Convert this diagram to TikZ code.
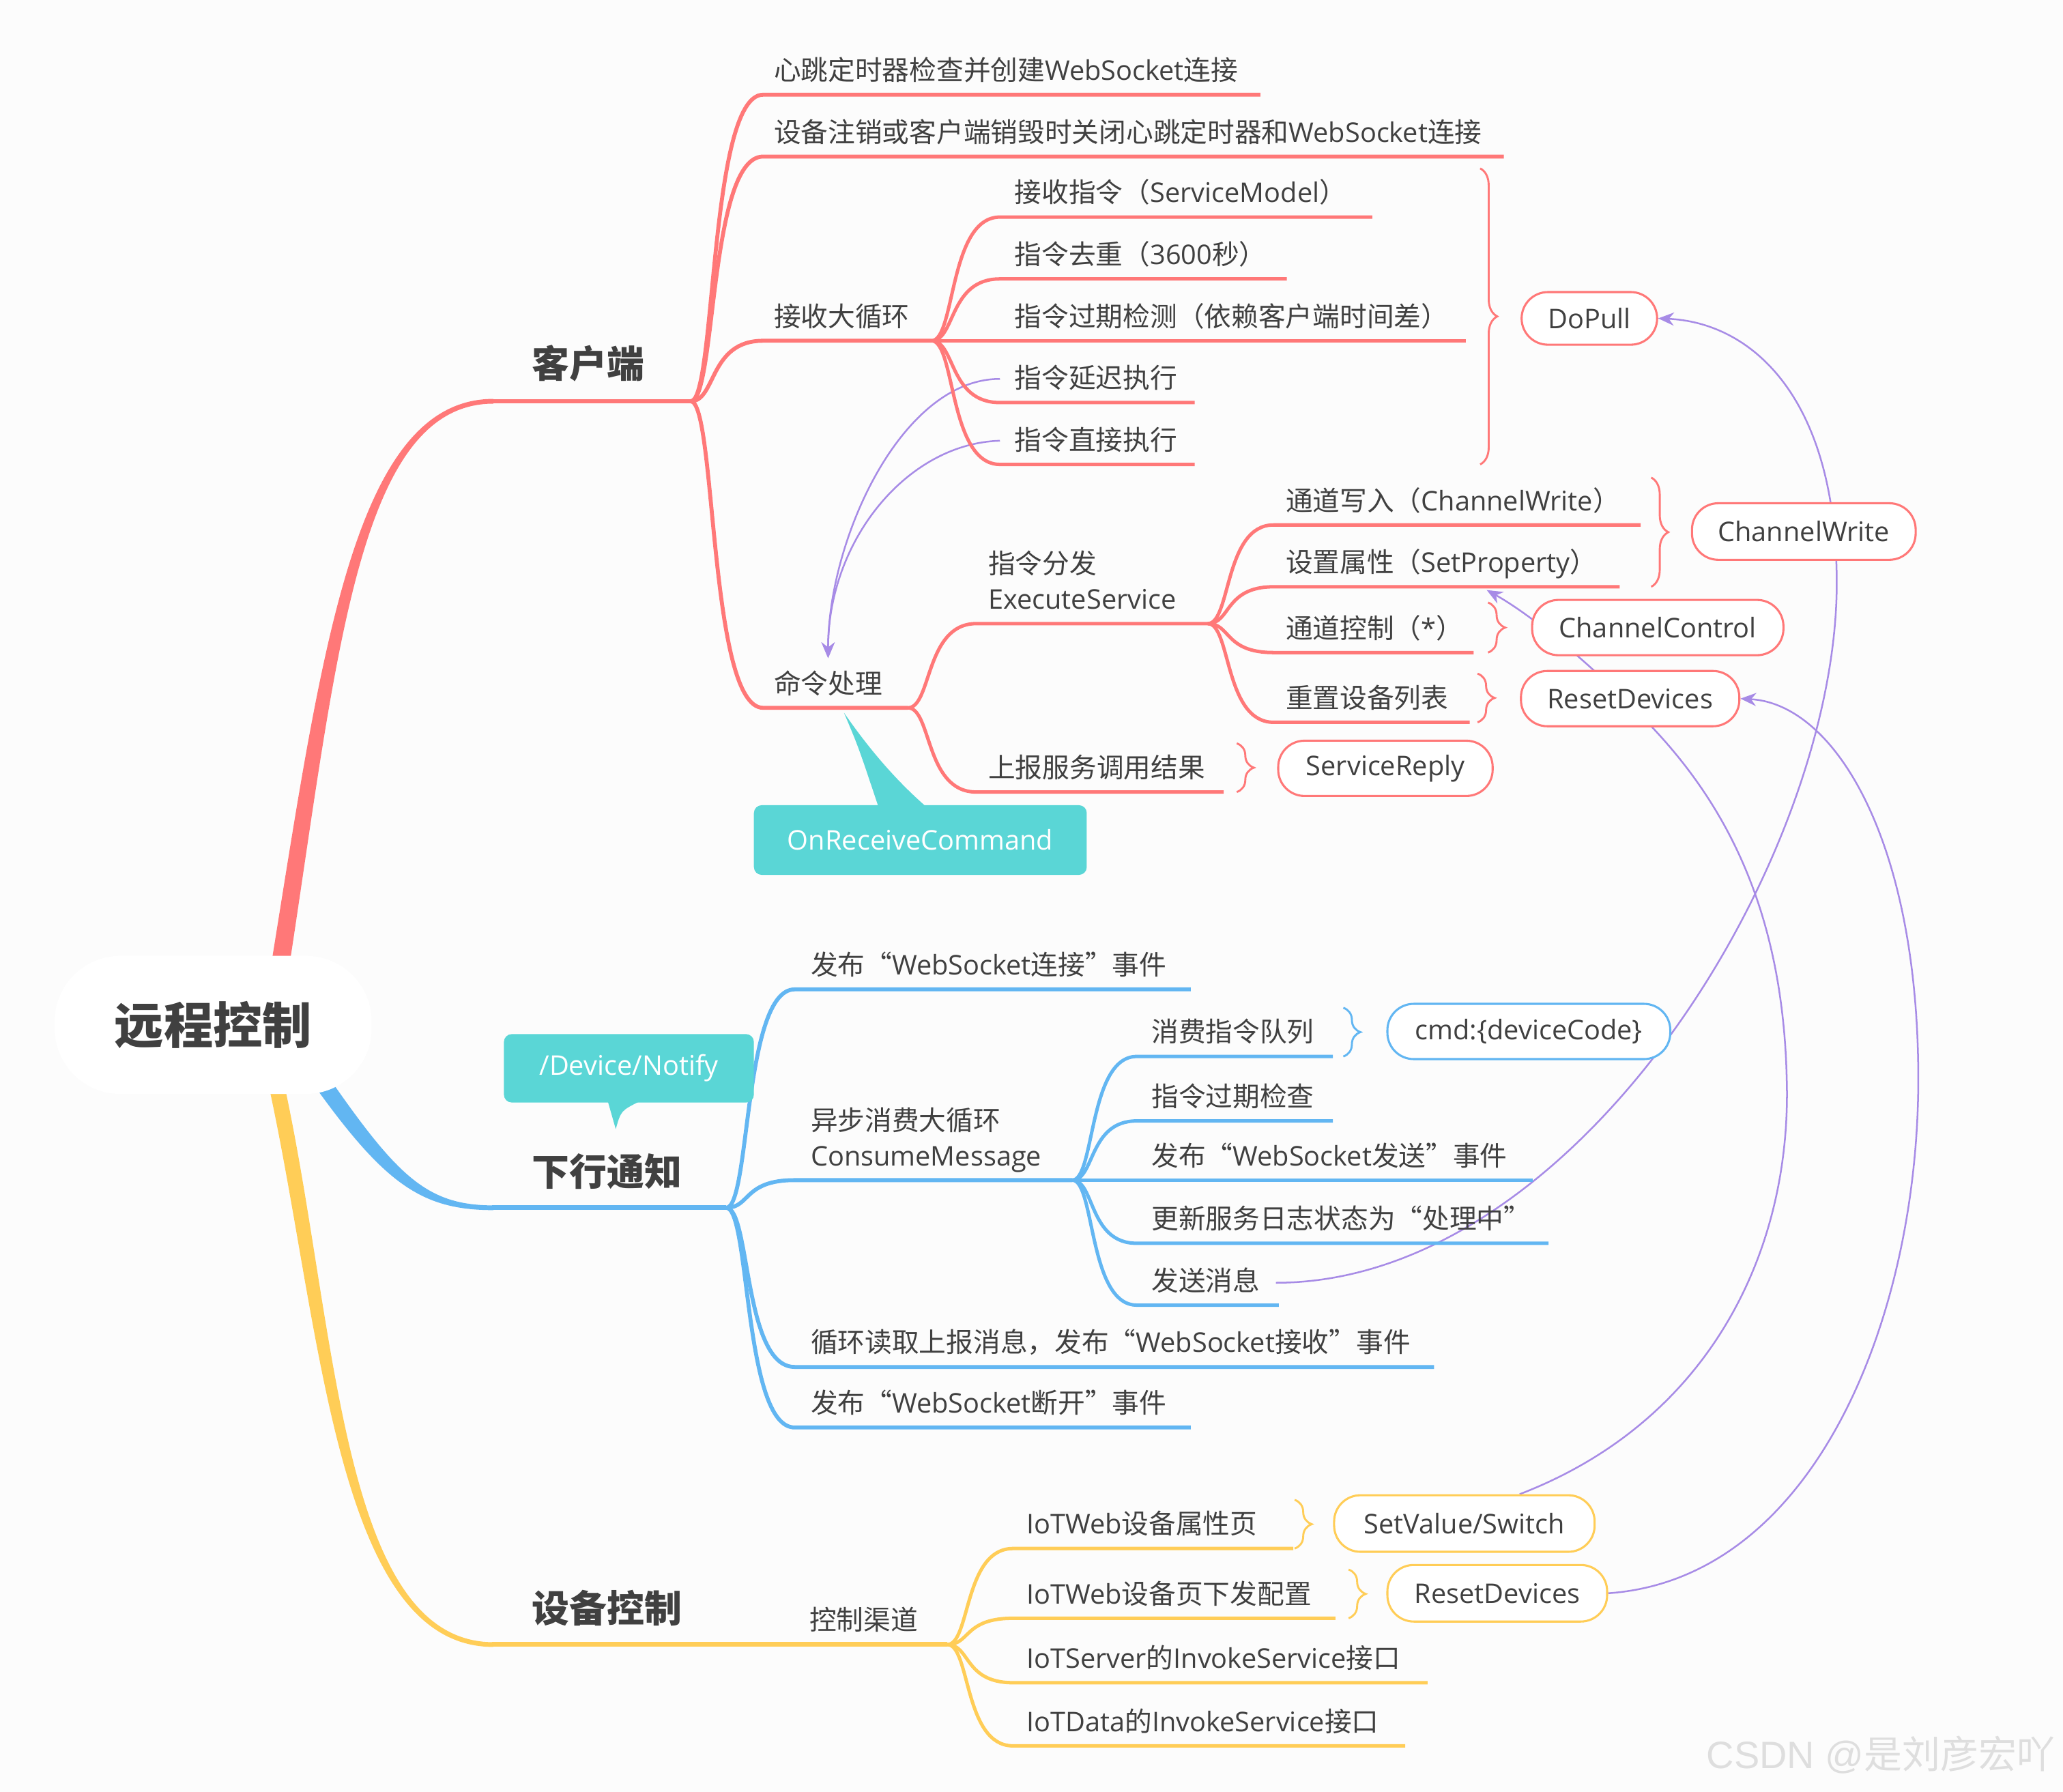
\documentclass[tikz,border=0pt]{standalone}
\usepackage{fontspec}
\setmainfont{Noto Sans CJK SC}
\newfontfamily\latf{Open Sans}
\newfontfamily\wmf{Liberation Sans}
\usetikzlibrary{calc,decorations.pathreplacing,arrows.meta}
\pgfdeclarelayer{back}
\pgfdeclarelayer{rel}
\pgfsetlayers{back,rel,main}
\definecolor{cred}{HTML}{FF7878}
\definecolor{cblue}{HTML}{62B6F2}
\definecolor{cyel}{HTML}{FFCD57}
\definecolor{cteal}{HTML}{5AD6D6}
\definecolor{cpur}{HTML}{A78BE6}
\definecolor{ctxt}{HTML}{404040}
\definecolor{cbg}{HTML}{FCFCFC}
\definecolor{cwm}{HTML}{DEDEDE}
\newcommand\lat[1]{{\latf #1}}
% mind-map branch: style, name, jx, jy, cx, cy, ex
\newcommand\mmb[7]{%
  \coordinate (#2a) at (#5,#6);
  \coordinate (#2b) at (#7,#6);
  \draw[#1] (#3,#4) .. controls ({#3+0.35*(#5-#3)},#4) and ({#3+0.25*(#5-#3)},#6) .. (#2a) -- (#2b);
}
\begin{document}
\begin{tikzpicture}[x=1pt,y=-1pt,
  txt/.style={inner sep=0pt, anchor=base west, text=ctxt, font=\fontsize{20.6}{27}\selectfont},
  mainlbl/.style={inner sep=0pt, anchor=base west, text=ctxt, font=\bfseries\fontsize{28.5}{32}\selectfont},
  lv2/.style={line width=3pt},
  lv3/.style={line width=2.6pt},
  pill/.style={line width=1.6pt, fill=white, rounded corners=20pt, minimum height=42pt, inner sep=0pt, text=ctxt, font=\latf\fontsize{20.6}{24}\selectfont},
  brc/.style={decorate, decoration={brace, amplitude=13pt, aspect=0.5}, line width=1.5pt},
  callout/.style={fill=cteal, rounded corners=6pt, inner sep=0pt, text=white, font=\latf\fontsize{20.6}{24}\selectfont},
  rel/.style={draw=cpur, line width=1.3pt},
  relarrow/.style={rel, -{Stealth[length=12pt, width=10pt]}}
]
\useasboundingbox (0,0) rectangle (1568,1362);
\begin{pgfonlayer}{back}
  \fill[cbg] (0,0) rectangle (1568,1362);
\end{pgfonlayer}

% ---------- junction coordinates ----------
\coordinate (jk) at (525,305);
\coordinate (jd) at (552,918);
\coordinate (jy) at (552,1250);

% ---------- main branches (tapered) ----------
\fill[cred] (205,740) .. controls (244,500) and (268,303.2) .. (375,303.2) -- (375,306.8) .. controls (272,306.8) and (256,500) .. (219,740) -- cycle;
\draw[cred, line width=3.6pt] (374,305) -- (jk);
\fill[cblue] (241,806) .. controls (300,892) and (322,916.2) .. (375,916.2) -- (375,919.8) .. controls (318,919.8) and (290,898) .. (231,814) -- cycle;
\draw[cblue, line width=3.6pt] (374,918) -- (jd);
\fill[cyel] (214,815) .. controls (256,1000) and (257,1248.2) .. (375,1248.2) -- (375,1251.8) .. controls (253,1251.8) and (244,1000) .. (202,815) -- cycle;
\coordinate (jc) at (720,1250);
\draw[cyel, line width=3.6pt] (374,1250) -- (jy) -- (jc);

% ---------- root ----------
\node[fill=white, rounded corners=50pt, minimum width=241pt, minimum height=105pt, inner sep=0pt, text=ctxt, font=\bfseries\fontsize{37.5}{40}\selectfont] (root) at (162,779) {远程控制};

% main labels
\node[mainlbl] (lk) at (404,287) {客户端};
\node[mainlbl] (ld) at (404,901) {下行通知};
\node[mainlbl] (ly) at (404,1233) {设备控制};

% ---------- 客户端 ----------
\mmb{lv2,cred}{k1}{525}{305}{580}{72}{958}
\mmb{lv2,cred}{k2}{525}{305}{580}{119}{1143}
\mmb{lv2,cred}{k3}{525}{305}{580}{259}{708}
\mmb{lv2,cred}{k4}{525}{305}{580}{538}{690}
\node[txt] (t11) at (588,61) {心跳定时器检查并创建\lat{WebSocket}连接};
\node[txt] (t12) at (588,108) {设备注销或客户端销毁时关闭心跳定时器和\lat{WebSocket}连接};
\node[txt] (t13) at (588,248) {接收大循环};
\node[txt] (t14) at (588,527) {命令处理};

% 接收大循环
\mmb{lv3,cred}{r1}{708}{259}{760}{165}{1043}
\mmb{lv3,cred}{r2}{708}{259}{760}{212}{978}
\mmb{lv3,cred}{r3}{708}{259}{760}{259}{1114}
\mmb{lv3,cred}{r4}{708}{259}{760}{306}{908}
\mmb{lv3,cred}{r5}{708}{259}{760}{353}{908}
\node[txt] (tr1) at (771,154) {接收指令（\lat{ServiceModel}）};
\node[txt] (tr2) at (771,201) {指令去重（\lat{3600}秒）};
\node[txt] (tr3) at (771,248) {指令过期检测（依赖客户端时间差）};
\node[txt] (tr4) at (771,295) {指令延迟执行};
\node[txt] (tr5) at (771,342) {指令直接执行};
\draw[brc, draw=cred] (1125,128) -- (1125,353);
\node[pill, draw=cred, minimum width=103pt, minimum height=40pt] (dopull) at (1208,242) {DoPull};

% 命令处理
\mmb{lv3,cred}{c1}{690}{538}{742}{474}{918}
\mmb{lv3,cred}{c2}{690}{538}{742}{602}{930}
\node[txt, align=left] (tc1) at (751,463) {指令分发\\\lat{ExecuteService}};
\node[txt] (tc2) at (751,591) {上报服务调用结果};
\draw[brc, draw=cred] (940,565) -- (940,602);
\node[pill, draw=cred, minimum width=163pt] (sreply) at (1053,584) {ServiceReply};

% ExecuteService
\mmb{lv3,cred}{e1}{918}{474}{968}{399}{1247}
\mmb{lv3,cred}{e2}{918}{474}{968}{446}{1231}
\mmb{lv3,cred}{e3}{918}{474}{968}{496}{1120}
\mmb{lv3,cred}{e4}{918}{474}{968}{549}{1117}
\node[txt] (te1) at (977,388) {通道写入（\lat{ChannelWrite}）};
\node[txt] (te2) at (977,435) {设置属性（\lat{SetProperty}）};
\node[txt] (te3) at (977,485) {通道控制（\lat{*}）};
\node[txt] (te4) at (977,538) {重置设备列表};
\draw[brc, draw=cred] (1255,363) -- (1255,446);
\draw[brc, draw=cred] (1131,458) -- (1131,496);
\draw[brc, draw=cred] (1123,512) -- (1123,549);
\node[pill, draw=cred, minimum width=170pt, minimum height=43pt] (cwrite) at (1371,404) {ChannelWrite};
\node[pill, draw=cred, minimum width=191pt] (cctrl) at (1260,477) {ChannelControl};
\node[pill, draw=cred, minimum width=166pt] (rdr) at (1239,531) {ResetDevices};
\coordinate (spend) at ($(e2b)+(-101,2.5)$);

% OnReceiveCommand callout
\node[callout, minimum width=253pt, minimum height=53pt] (orc) at (699.5,638.5) {OnReceiveCommand};
\fill[cteal] ($(orc.north)+(-58,-70)$) .. controls ($(orc.north)+(-47,-44)$) .. ($(orc.north)+(-32,1)$) -- ($(orc.north)+(4,1)$) .. controls ($(orc.north)+(-20,-20)$) and ($(orc.north)+(-40,-44)$) .. ($(orc.north)+(-58,-70)$) -- cycle;

% ---------- 下行通知 ----------
\mmb{lv2,cblue}{d1}{552}{918}{604}{752}{905}
\mmb{lv2,cblue}{d2}{552}{918}{604}{897}{815}
\mmb{lv2,cblue}{d3}{552}{918}{604}{1039}{1090}
\mmb{lv2,cblue}{d4}{552}{918}{604}{1085}{905}
\node[txt] (td1) at (616,741) {发布“\lat{WebSocket}连接”事件};
\node[txt, align=left] (td2) at (616,886) {异步消费大循环\\\lat{ConsumeMessage}};
\node[txt] (td3) at (616,1028) {循环读取上报消息，发布“\lat{WebSocket}接收”事件};
\node[txt] (td4) at (616,1074) {发布“\lat{WebSocket}断开”事件};

\mmb{lv3,cblue}{m1}{815}{897}{864}{803}{1013}
\mmb{lv3,cblue}{m2}{815}{897}{864}{852}{1013}
\mmb{lv3,cblue}{m3}{815}{897}{864}{897}{1165}
\mmb{lv3,cblue}{m4}{815}{897}{864}{945}{1177}
\mmb{lv3,cblue}{m5}{815}{897}{864}{992}{972}
\node[txt] (tm1) at (875,792) {消费指令队列};
\node[txt] (tm2) at (875,841) {指令过期检查};
\node[txt] (tm3) at (875,886) {发布“\lat{WebSocket}发送”事件};
\node[txt] (tm4) at (875,934) {更新服务日志状态为“处理中”};
\node[txt] (tm5) at (875,981) {发送消息};
\draw[brc, draw=cblue] (1021,766) -- (1021,803);
\node[pill, draw=cblue, minimum width=215pt] (cmd) at (1162,784) {cmd:\{deviceCode\}};

% /Device/Notify callout
\node[callout, minimum width=190pt, minimum height=52pt] (dn) at (478,812) {/Device/Notify};
\fill[cteal] ($(dn.south)+(-16,-1)$) -- ($(dn.south)+(-10,20)$) .. controls ($(dn.south)+(-6,6)$) .. ($(dn.south)+(8,-1)$) -- cycle;

% ---------- 设备控制 ----------
\node[txt] (tyc) at (615,1239) {控制渠道};
\mmb{lv3,cyel}{y1}{720}{1250}{770}{1177}{983}
\mmb{lv3,cyel}{y2}{720}{1250}{770}{1230}{1015}
\mmb{lv3,cyel}{y3}{720}{1250}{770}{1279}{1085}
\mmb{lv3,cyel}{y4}{720}{1250}{770}{1327}{1068}
\node[txt] (ty1) at (780,1166) {\lat{IoTWeb}设备属性页};
\node[txt] (ty2) at (780,1219) {\lat{IoTWeb}设备页下发配置};
\node[txt] (ty3) at (780,1268) {\lat{IoTServer}的\lat{InvokeService}接口};
\node[txt] (ty4) at (780,1316) {\lat{IoTData}的\lat{InvokeService}接口};
\draw[brc, draw=cyel] (984,1140) -- (984,1177);
\draw[brc, draw=cyel] (1025,1193) -- (1025,1230);
\node[pill, draw=cyel, minimum width=198pt, minimum height=43pt] (sv) at (1113,1158) {SetValue/Switch};
\node[pill, draw=cyel, minimum width=167pt, minimum height=43pt] (rdy) at (1138,1211) {ResetDevices};

% ---------- relationships ----------
\begin{pgfonlayer}{rel}
  \draw[relarrow] ($(tr4.base west)+(-11,-7)$) .. controls +(-75,0) and +(0,-90) .. ($(t14.north)+(0,-9)$);
  \draw[relarrow] ($(tr5.base west)+(-11,-7)$) .. controls +(-70,2) and +(0,-90) .. ($(t14.north)+(0,-9)$);
  \draw[relarrow] ($(tm5.base east)+(12,-6)$) .. controls (1200,975) and (1398,650) .. (1396,440) .. controls (1395,300) and (1330,245) .. (dopull.east);
  \draw[relarrow] ($(sv.north)+(42,0)$) .. controls (1300,1080) and (1362,950) .. (1358,820) .. controls (1355,690) and (1310,610) .. (1255,552) .. controls (1212,507) and (1165,468) .. (spend);
  \draw[relarrow] (rdy.east) .. controls (1380,1200) and (1458,1000) .. (1458,820) .. controls (1458,640) and (1395,535) .. (rdr.east);
\end{pgfonlayer}

% watermark
\node[inner sep=0pt, anchor=base west, text=cwm, font=\fontsize{29}{31}\selectfont] (wm) at (1297,1344) {{\wmf CSDN @}是刘彦宏吖};
\end{tikzpicture}
\end{document}
